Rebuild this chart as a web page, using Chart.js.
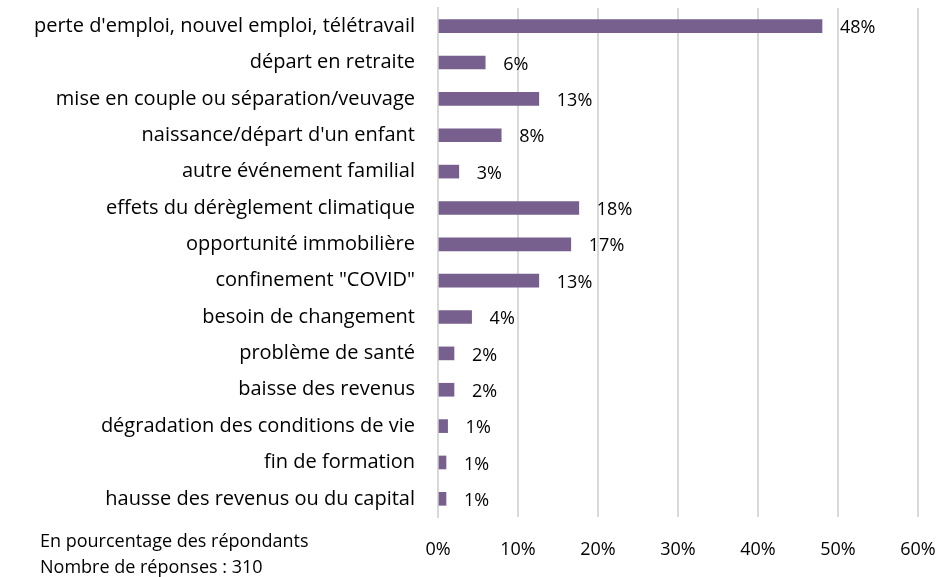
<!DOCTYPE html>
<html>
<head>
<meta charset="utf-8">
<script src="https://cdn.jsdelivr.net/npm/chart.js@4/dist/chart.umd.min.js"></script>
<style>
  html, body { margin: 0; padding: 0; background: #fff; }
  #wrap { position: relative; width: 940px; height: 577px; }
  .note { position: absolute; left: 40px; font: 18px "Open Sans", sans-serif; color: #000; white-space: nowrap; line-height: 20px; }
</style>
</head>
<body>
<div id="wrap">
  <canvas id="chart" width="940" height="577"></canvas>
  <div class="note" style="top:530px">En pourcentage des répondants</div>
  <div class="note" style="top:556px">Nombre de réponses : 310</div>
</div>
<script>
// Motifs de déménagement, en % des répondants
const categories = [
  "perte d'emploi, nouvel emploi, télétravail",
  'départ en retraite',
  'mise en couple ou séparation/veuvage',
  "naissance/départ d'un enfant",
  'autre événement familial',
  'effets du dérèglement climatique',
  'opportunité immobilière',
  'confinement "COVID"',
  'besoin de changement',
  'problème de santé',
  'baisse des revenus',
  'dégradation des conditions de vie',
  'fin de formation',
  'hausse des revenus ou du capital',
];
const values = [48, 5.9, 12.6, 7.9, 2.6, 17.6, 16.6, 12.6, 4.2, 2.0, 2.0, 1.2, 1.0, 1.0];
const shownLabels = ['48%', '6%', '13%', '8%', '3%', '18%', '17%', '13%', '4%', '2%', '2%', '1%', '1%', '1%'];
const xTicks = [0, 10, 20, 30, 40, 50, 60];

const font = '"Open Sans", sans-serif';

const valueLabels = {
  id: 'valueLabels',
  afterDatasetsDraw(chart) {
    const ctx = chart.ctx;
    const meta = chart.getDatasetMeta(0);
    ctx.save();
    ctx.font = `18px ${font}`;
    ctx.fillStyle = '#000';
    ctx.textAlign = 'left';
    ctx.textBaseline = 'middle';
    meta.data.forEach((bar, i) => {
      ctx.fillText(shownLabels[i], bar.x + 18, bar.y + 2);
    });
    ctx.restore();
  }
};

new Chart(document.getElementById('chart'), {
  type: 'bar',
  data: {
    labels: categories,
    datasets: [{
      data: values,
      backgroundColor: '#775f8e',
      barThickness: 13,
    }]
  },
  options: {
    indexAxis: 'y',
    responsive: false,
    animation: false,
    layout: { padding: { top: 8, right: 22, left: 0, bottom: 0 } },
    plugins: { legend: { display: false }, tooltip: { enabled: false } },
    scales: {
      x: {
        min: 0,
        max: 60,
        afterBuildTicks(scale) { scale.ticks = xTicks.map((v) => ({ value: v })); },
        afterFit(scale) {
          scale.height = 60;
          scale.paddingLeft = 0;
          scale.paddingRight = 0;
        },
        grid: { color: '#d9d9d9', lineWidth: 2, drawTicks: false },
        border: { display: false },
        ticks: {
          padding: 22,
          color: '#000',
          font: { family: font, size: 18 },
          callback: (v) => `${v}%`,
        },
      },
      y: {
        afterFit(scale) {
          scale.width = 438;
          scale.paddingTop = 0;
          scale.paddingBottom = 0;
        },
        grid: { display: false, drawTicks: false },
        border: { display: true, color: '#d9d9d9', width: 2 },
        ticks: {
          padding: 23,
          color: '#000',
          font: { family: font, size: 20 },
        },
      },
    },
  },
  plugins: [valueLabels],
});
</script>
</body>
</html>
